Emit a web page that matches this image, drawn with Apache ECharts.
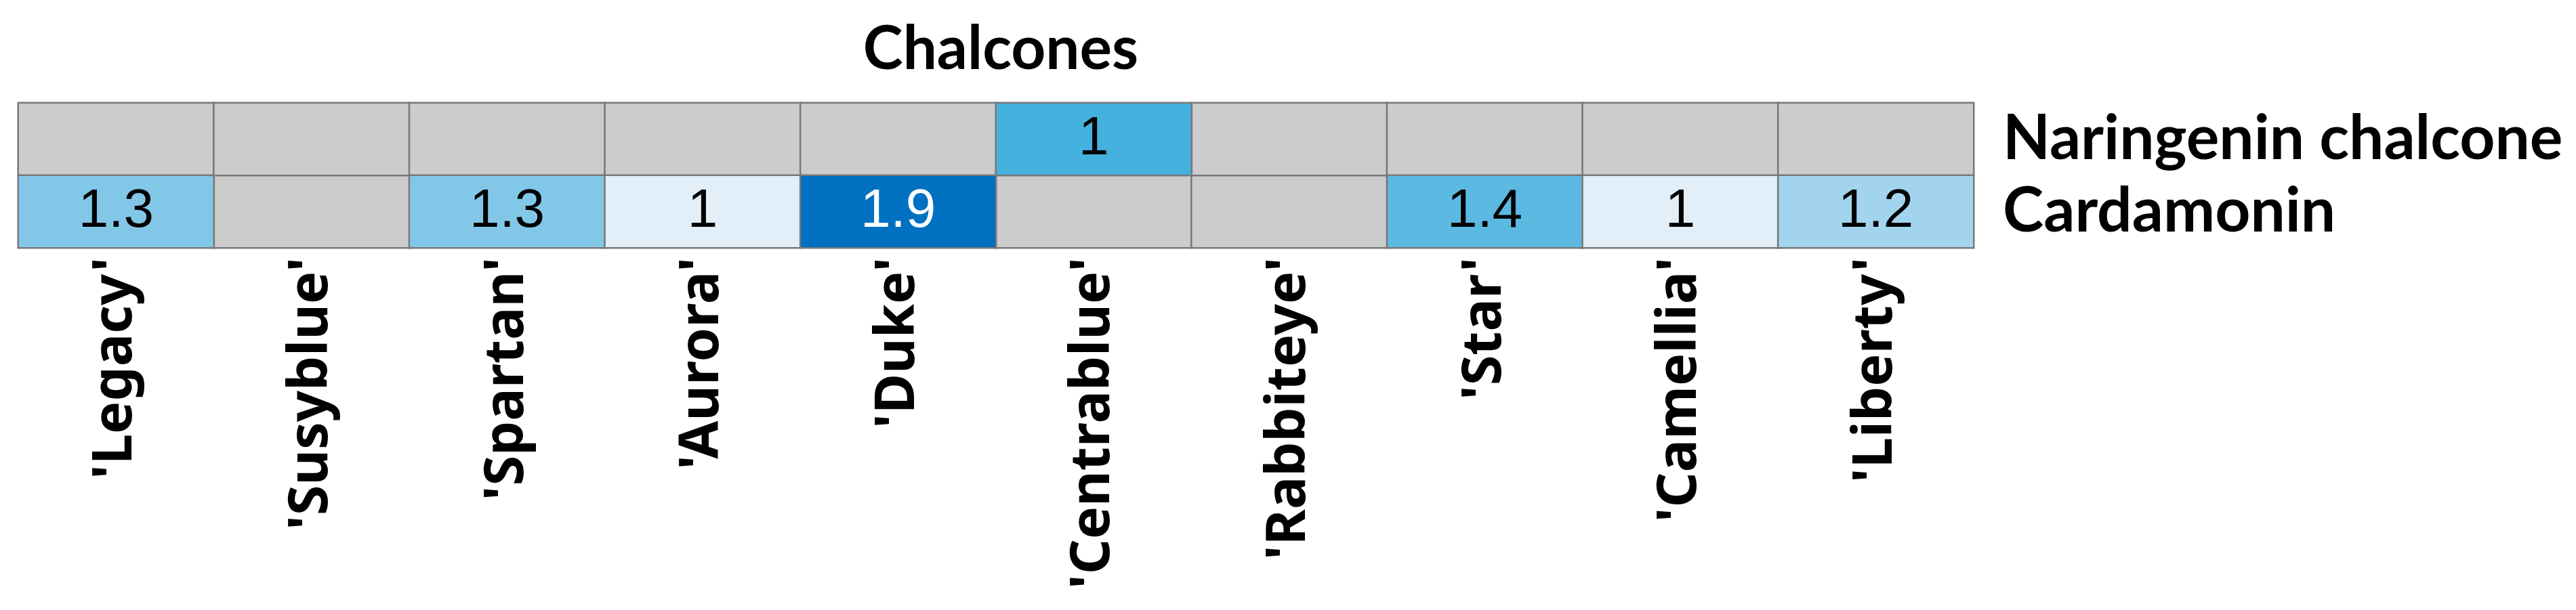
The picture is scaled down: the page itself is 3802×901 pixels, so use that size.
<!DOCTYPE html>
<html>
<head>
<meta charset="utf-8">
<title>Chalcones</title>
<script src="https://cdn.jsdelivr.net/npm/echarts@6/dist/echarts.min.js"></script>
<style>
  html, body { margin: 0; padding: 0; background: #fff; }
  #chart { width: 3802px; height: 901px; }
</style>
</head>
<body>
<div id="chart"></div>
<script>
// cultivars on the x axis
const cultivars = ["'Legacy'", "'Susyblue'", "'Spartan'", "'Aurora'", "'Duke'", "'Centrablue'", "'Rabbiteye'", "'Star'", "'Camellia'", "'Liberty'"];
// rows, bottom to top
const compounds = ['Cardamonin', 'Naringenin chalcone'];
// null = not detected (grey cell)
const cardamonin = [1.3, null, 1.3, 1, 1.9, null, null, 1.4, 1, 1.2];
const naringeninChalcone = [null, null, null, null, null, 1, null, null, null, null];

const rows = [cardamonin, naringeninChalcone];
const missingData = [];
const cardData = [];
const narData = [];
rows.forEach((row, y) => {
  row.forEach((v, x) => {
    if (v == null) {
      missingData.push([x, y, 0]);
    } else if (y === 0) {
      // dark cell gets a white number
      cardData.push(v >= 1.8 ? { value: [x, y, v], label: { color: '#fff' } } : [x, y, v]);
    } else {
      narData.push([x, y, v]);
    }
  });
});

const chart = echarts.init(document.getElementById('chart'));

const cellStyle = {
  borderColor: '#777777',
  borderWidth: 2.5
};
const cellLabel = {
  show: true,
  color: '#000',
  fontFamily: 'Liberation Sans',
  fontSize: 80,
  formatter: (p) => p.value[2]
};

const op = {
  backgroundColor: '#fff',
  animation: false,
  title: {
    text: 'Chalcones',
    left: 1472,
    textAlign: 'center',
    top: 24,
    textStyle: {
      fontFamily: 'Lato',
      fontWeight: 'bold',
      fontSize: 89,
      color: '#000'
    }
  },
  grid: {
    left: 27,
    top: 152,
    width: 2886,
    height: 214
  },
  xAxis: {
    type: 'category',
    data: cultivars,
    axisLine: { show: false },
    axisTick: { show: false },
    splitArea: { show: false },
    axisLabel: {
      interval: 0,
      rotate: 90,
      margin: 14,
      color: '#000',
      fontFamily: 'Noto Sans',
      fontWeight: 'bold',
      fontSize: 81
    }
  },
  yAxis: {
    type: 'category',
    data: compounds,
    position: 'right',
    axisLine: { show: false },
    axisTick: { show: false },
    splitArea: { show: false },
    axisLabel: {
      interval: 0,
      hideOverlap: false,
      margin: 43,
      padding: [14, 0, 0, 0],
      color: '#000',
      fontFamily: 'Lato',
      fontWeight: 'bold',
      fontSize: 91
    }
  },
  visualMap: [
    {
      type: 'piecewise',
      show: false,
      seriesIndex: 1,
      pieces: [
        { value: 1, color: '#E2EFF9' },
        { value: 1.2, color: '#A3D4EE' },
        { value: 1.3, color: '#83C7E8' },
        { value: 1.4, color: '#5BB9E2' },
        { value: 1.9, color: '#0070C0' }
      ]
    },
    {
      type: 'piecewise',
      show: false,
      seriesIndex: 2,
      pieces: [{ value: 1, color: '#44B1DE' }]
    }
  ],
  series: [
    {
      name: 'not detected',
      type: 'heatmap',
      data: missingData,
      itemStyle: Object.assign({ color: '#CCCCCC' }, cellStyle),
      label: { show: false },
      emphasis: { disabled: true }
    },
    {
      name: 'Cardamonin',
      type: 'heatmap',
      data: cardData,
      itemStyle: cellStyle,
      label: cellLabel,
      emphasis: { disabled: true }
    },
    {
      name: 'Naringenin chalcone',
      type: 'heatmap',
      data: narData,
      itemStyle: cellStyle,
      label: cellLabel,
      emphasis: { disabled: true }
    }
  ]
};

chart.setOption(op, true);
</script>
</body>
</html>
